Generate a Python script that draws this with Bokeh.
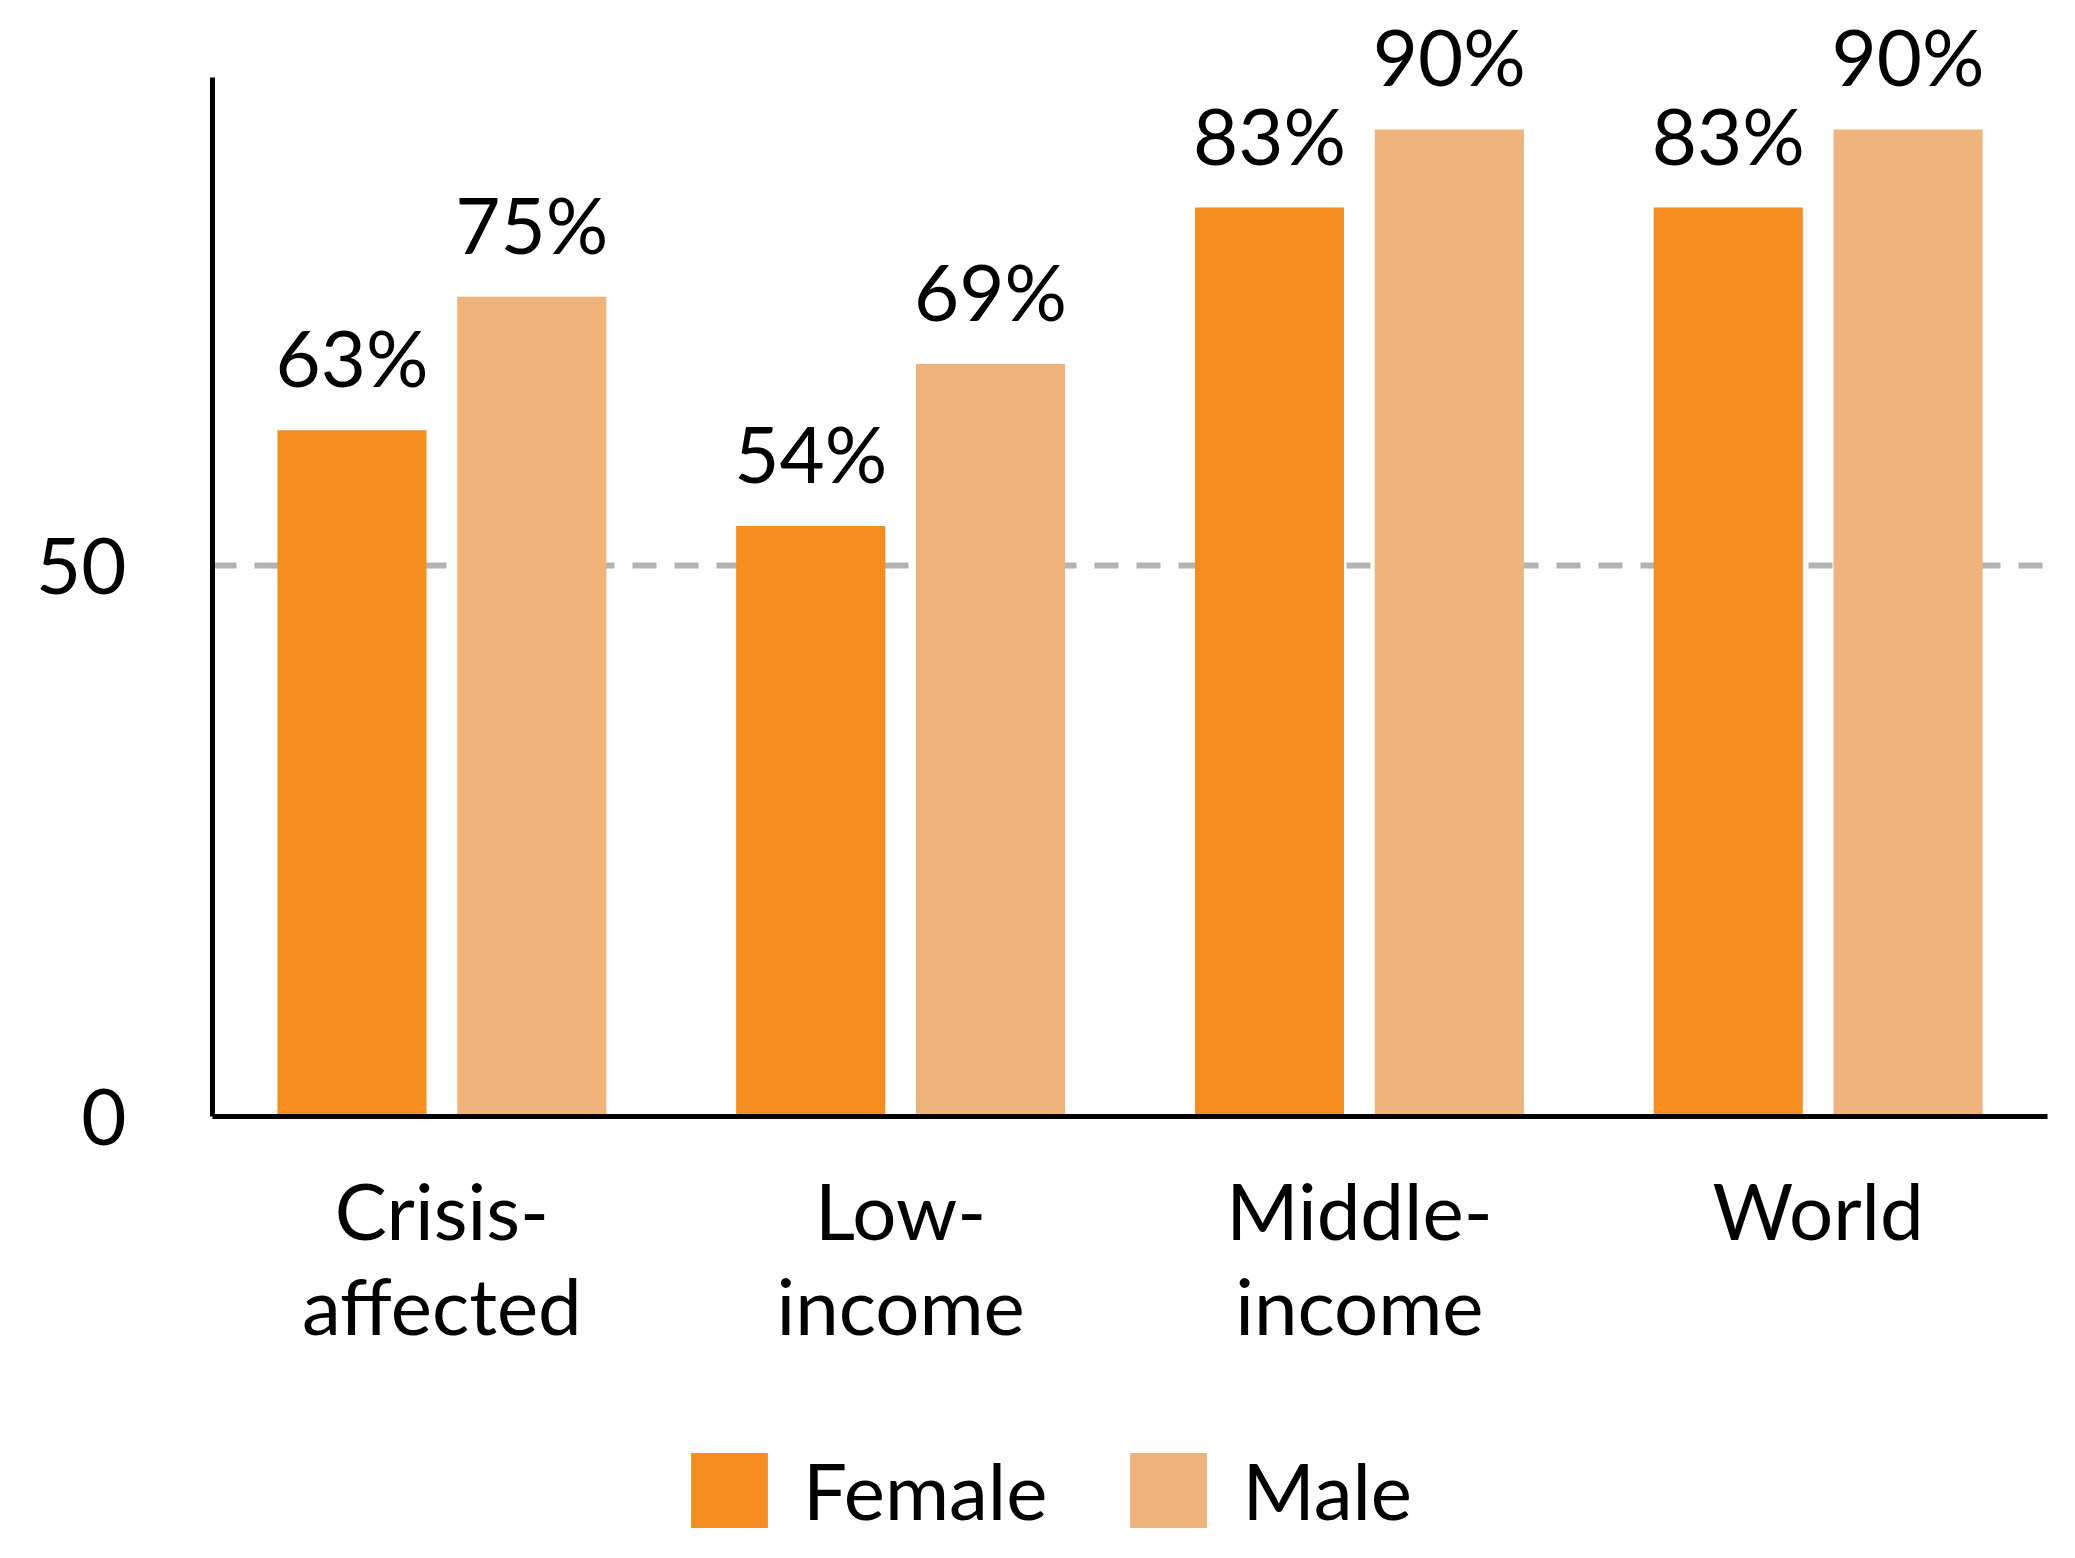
from bokeh.plotting import figure
from bokeh.layouts import column
from bokeh.models import FactorRange, Range1d, FixedTicker, Legend, LegendItem, ColumnDataSource
from bokeh.transform import dodge
from bokeh.core.properties import value
from bokeh.embed import file_html
from bokeh.resources import INLINE

# ---- data (bar heights; labels as printed) ----
categories = ["Crisis-\naffected", "Low-\nincome", "Middle-\nincome", "World"]
female = [62.3, 53.6, 82.5, 82.5]
male = [74.4, 68.3, 89.6, 89.6]
female_labels = ["63%", "54%", "83%", "83%"]
male_labels = ["75%", "69%", "90%", "90%"]
y_ticks = [0, 50]
series_names = ["Female", "Male"]

# ---- style ----
FEMALE_COLOR = "#F58D22"
MALE_COLOR = "#F0B37A"
FONT = "Lato"
FS = "78px"
W = 2070

src = ColumnDataSource(dict(cat=categories, female=female, male=male,
                            fl=female_labels, ml=male_labels))

p = figure(width=W, height=1376,
           x_range=FactorRange(*categories, range_padding=0),
           y_range=Range1d(0, 101.3),
           output_backend="svg", toolbar_location=None,
           min_border_left=212, min_border_right=23,
           min_border_top=0, min_border_bottom=260)
p.outline_line_color = None
p.background_fill_color = "white"
p.border_fill_color = "white"

# grid: only dashed line at 50
p.xgrid.grid_line_color = None
p.ygrid.ticker = FixedTicker(ticks=[50])
p.ygrid.grid_line_color = "#b3b3b3"
p.ygrid.grid_line_width = 6
p.ygrid.grid_line_dash = "24 18"

off = 0.196
bw = 0.325
fr = p.vbar(x=dodge("cat", -off, range=p.x_range), top="female", width=bw,
            source=src, fill_color=FEMALE_COLOR, line_color=None)
mr = p.vbar(x=dodge("cat", off, range=p.x_range), top="male", width=bw,
            source=src, fill_color=MALE_COLOR, line_color=None)

p.text(x=dodge("cat", -off, range=p.x_range), y="female", text="fl", source=src,
       text_font=value(FONT), text_font_size=FS, text_align="center",
       text_baseline="alphabetic", y_offset=-73, text_color="black")
p.text(x=dodge("cat", off, range=p.x_range), y="male", text="ml", source=src,
       text_font=value(FONT), text_font_size=FS, text_align="center",
       text_baseline="alphabetic", y_offset=-73, text_color="black")

# axes
p.yaxis.ticker = FixedTicker(ticks=y_ticks)
p.yaxis.bounds = (0, 94.3)
p.yaxis.major_label_text_font = FONT
p.yaxis.major_label_text_font_size = FS
p.yaxis.major_label_text_color = "black"
p.yaxis.major_tick_line_color = None
p.yaxis.minor_tick_line_color = None
p.yaxis.axis_line_width = 5
p.yaxis.axis_line_color = "black"
p.yaxis.major_label_standoff = 80

p.xaxis.major_label_text_font = FONT
p.xaxis.major_label_text_font_size = FS
p.xaxis.major_label_text_color = "black"
p.xaxis.major_label_text_line_height = 1.02
p.xaxis.major_tick_line_color = None
p.xaxis.minor_tick_line_color = None
p.xaxis.axis_line_width = 5
p.xaxis.axis_line_color = "black"
p.xaxis.major_label_standoff = 40

# ---- legend strip (frame aligned with the chart above) ----
q = figure(width=W, height=178, x_range=Range1d(0, 1), y_range=Range1d(0, 1),
           output_backend="svg", toolbar_location=None,
           min_border_left=0, min_border_right=0, min_border_top=0, min_border_bottom=0)
q.axis.visible = False
q.grid.visible = False
q.outline_line_color = None
q.background_fill_color = "white"
q.border_fill_color = "white"
# legend proxies: same data, hidden
lf = q.vbar(x="female", top="female", width=0.1, source=src,
            fill_color=FEMALE_COLOR, line_color=None, visible=False)
lm = q.vbar(x="male", top="male", width=0.1, source=src,
            fill_color=MALE_COLOR, line_color=None, visible=False)

legend = Legend(items=[LegendItem(label=series_names[0], renderers=[lf]),
                       LegendItem(label=series_names[1], renderers=[lm])],
                orientation="horizontal", location=(469, 8),
                glyph_width=96, glyph_height=94, label_height=112,
                label_standoff=26, spacing=73,
                padding=0, margin=0, border_line_color=None,
                background_fill_alpha=0, inactive_fill_alpha=0,
                label_text_font=FONT, label_text_font_size=FS,
                label_text_color="black")
q.add_layout(legend)

open("out.html", "w").write(file_html(column(p, q, spacing=0), INLINE))
